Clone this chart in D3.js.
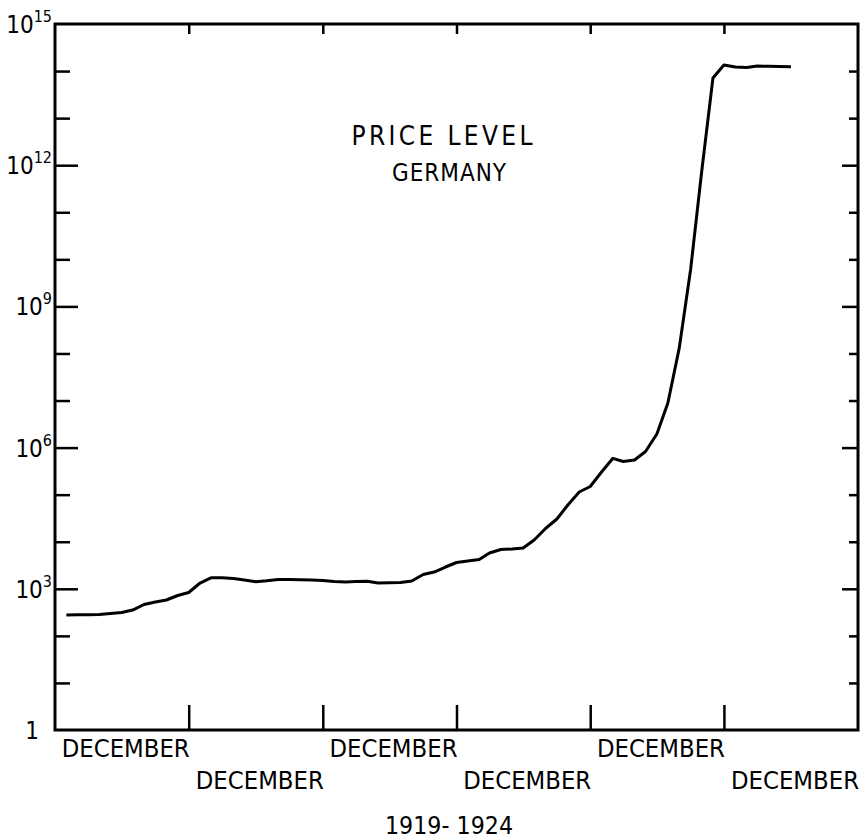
<!DOCTYPE html>
<html>
<head>
<meta charset="utf-8">
<script src="https://cdn.jsdelivr.net/npm/d3@7"></script>
<style>
  body { margin: 0; background: #fff; }
  svg { display: block; }
  text { fill: #000; }
</style>
</head>
<body>
<svg width="867" height="839"></svg>
<script>
const width = 867, height = 839;
const margin = { top: 24, right: 9, bottom: 109, left: 55 };

// price level (wholesale index), Jan..Dec of each year
const price1919 = [277, 280, 282, 286, 299, 313, 354, 464, 524, 578, 720, 834];
const price1920 = [1327, 1721, 1720, 1655, 1537, 1415, 1479, 1575, 1585, 1560, 1537, 1500];
const price1921 = [1429, 1394, 1429, 1442, 1327, 1348, 1361, 1465, 2013, 2274, 2904, 3620];
const price1922 = [3893, 4192, 5757, 6834, 7000, 7360, 10880, 19100, 30400, 60300, 114000, 149000];
const price1923 = [303000, 592000, 506000, 545000, 826000, 1.94e6, 8.85e6, 1.3e8, 6e9, 7e11, 7.1e13, 1.35e14];
const price1924 = [1.22e14, 1.19e14, 1.28e14, 1.26e14, 1.25e14, 1.23e14]; // Jan..Jun

const years = [1919, 1920, 1921, 1922, 1923, 1924];
const seriesByYear = [price1919, price1920, price1921, price1922, price1923, price1924];

const tickYears = [1919, 1920, 1921, 1922, 1923];       // December ticks inside the frame
const labelYears = [1919, 1920, 1921, 1922, 1923, 1924]; // "DECEMBER" labels
const majorExps = [3, 6, 9, 12];
const minorExps = [1, 2, 4, 5, 7, 8, 10, 11, 13, 14];
const labelExps = [3, 6, 9, 12, 15];

const data = [];
years.forEach((yr, k) => {
  seriesByYear[k].forEach((v, m) => data.push({ date: new Date(yr, m, 15), value: v }));
});

const svg = d3.select("svg");
const iw = width - margin.left - margin.right, ih = height - margin.top - margin.bottom;

const x = d3.scaleTime()
  .domain([new Date(1918, 11, 15), new Date(1924, 11, 15)])
  .range([margin.left, margin.left + iw]);
const y = d3.scaleLog()
  .domain([1, 1e15])
  .range([margin.top + ih, margin.top]);

const dec = yr => new Date(yr, 11, 15);
const font = "'DejaVu Sans Condensed', 'Liberation Sans Narrow', sans-serif";

function styleAxis(g, w) {
  g.select(".domain").remove();
  g.selectAll(".tick line").attr("stroke", "#000").attr("stroke-width", w);
}

// left ticks (inward)
svg.append("g").attr("transform", `translate(${margin.left},0)`)
  .call(d3.axisLeft(y).tickValues(minorExps.map(e => 10 ** e)).tickSize(-15).tickFormat(""))
  .call(g => styleAxis(g, 2.5));
svg.append("g").attr("transform", `translate(${margin.left},0)`)
  .call(d3.axisLeft(y).tickValues(majorExps.map(e => 10 ** e)).tickSize(-23).tickFormat(""))
  .call(g => styleAxis(g, 2.5));

// right ticks (inward)
svg.append("g").attr("transform", `translate(${margin.left + iw},0)`)
  .call(d3.axisRight(y).tickValues(minorExps.map(e => 10 ** e)).tickSize(-9).tickFormat(""))
  .call(g => styleAxis(g, 2.5));
svg.append("g").attr("transform", `translate(${margin.left + iw},0)`)
  .call(d3.axisRight(y).tickValues(majorExps.map(e => 10 ** e)).tickSize(-16).tickFormat(""))
  .call(g => styleAxis(g, 2.5));

// bottom and top ticks at each December
svg.append("g").attr("transform", `translate(0,${margin.top + ih})`)
  .call(d3.axisBottom(x).tickValues(tickYears.map(dec)).tickSize(-25).tickFormat(""))
  .call(g => styleAxis(g, 2.5));
svg.append("g").attr("transform", `translate(0,${margin.top})`)
  .call(d3.axisTop(x).tickValues(tickYears.map(dec)).tickSize(-10).tickFormat(""))
  .call(g => styleAxis(g, 2.5));

// frame
svg.append("rect")
  .attr("x", margin.left).attr("y", margin.top)
  .attr("width", iw).attr("height", ih)
  .attr("fill", "none").attr("stroke", "#000").attr("stroke-width", 3);

// y labels 10^n
labelExps.forEach(e => {
  const t = svg.append("text")
    .attr("x", 52).attr("y", y(10 ** e) + 9)
    .attr("text-anchor", "end")
    .attr("font-family", font)
    .attr("font-size", 24);
  t.append("tspan").text("10");
  t.append("tspan").attr("dy", -11).attr("font-size", 16).text(e);
});
svg.append("text")
  .attr("x", 39).attr("y", y(1) + 9)
  .attr("text-anchor", "end")
  .attr("font-family", font)
  .attr("font-size", 24)
  .text("1");

// DECEMBER labels, two staggered rows, right-aligned on each December
labelYears.forEach((yr, i) => {
  svg.append("text")
    .attr("x", x(dec(yr)) + 1)
    .attr("y", i % 2 === 0 ? 757 : 789)
    .attr("text-anchor", "end")
    .attr("font-family", font)
    .attr("font-size", 25)
    .attr("textLength", 128)
    .attr("lengthAdjust", "spacingAndGlyphs")
    .text("DECEMBER");
});

svg.append("text")
  .attr("x", 449).attr("y", 834)
  .attr("text-anchor", "middle")
  .attr("font-family", font)
  .attr("font-size", 25)
  .attr("textLength", 128)
  .attr("lengthAdjust", "spacingAndGlyphs")
  .text("1919- 1924");

// title
svg.append("text")
  .attr("x", 442).attr("y", 145)
  .attr("text-anchor", "middle")
  .attr("font-family", font)
  .attr("font-size", 26)
  .attr("textLength", 181)
  .attr("lengthAdjust", "spacing")
  .text("PRICE LEVEL");
svg.append("text")
  .attr("x", 449).attr("y", 181)
  .attr("text-anchor", "middle")
  .attr("font-family", font)
  .attr("font-size", 24)
  .attr("textLength", 114)
  .attr("lengthAdjust", "spacing")
  .text("GERMANY");

// price line
const line = d3.line().x(d => x(d.date)).y(d => y(d.value));
svg.append("path")
  .datum(data)
  .attr("fill", "none")
  .attr("stroke", "#000")
  .attr("stroke-width", 3)
  .attr("stroke-linejoin", "round")
  .attr("d", line);
</script>
</body>
</html>
